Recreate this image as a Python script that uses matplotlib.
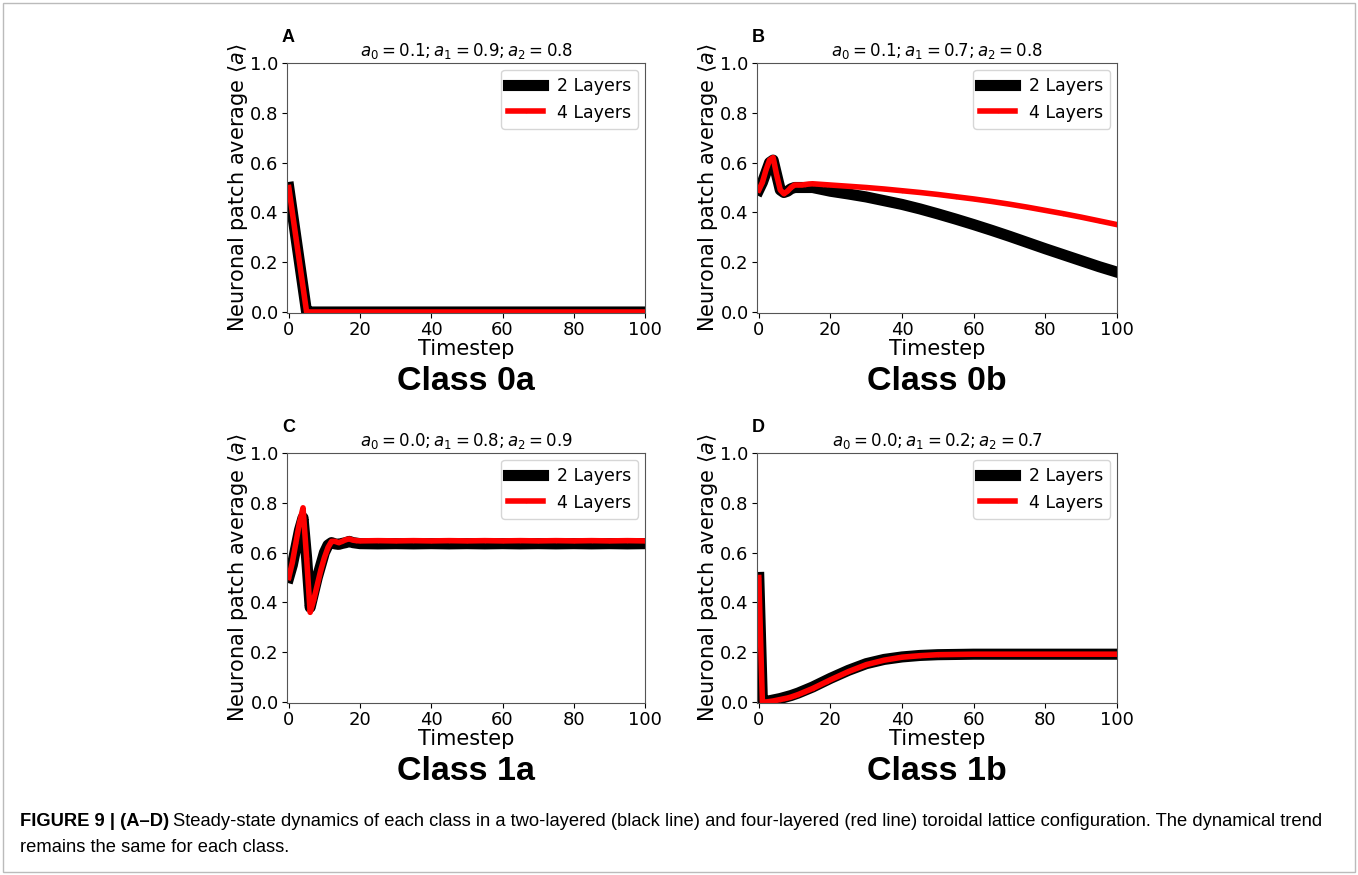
import matplotlib
matplotlib.use("Agg")
import matplotlib.pyplot as plt
from matplotlib import font_manager
from matplotlib.patches import Rectangle

# Timesteps at which each run was sampled
t_early = list(range(0, 21))
t_late = [25, 30, 35, 40, 45, 50, 55, 60, 65, 70, 75, 80, 85, 90, 95, 100]
timesteps = t_early + t_late

# Class 0a: a0=0.1, a1=0.9, a2=0.8
a_two = [0.50, 0.40, 0.30, 0.20, 0.10, 0.0] + [0.0] * 31
a_four = [0.50, 0.40, 0.30, 0.20, 0.10, 0.0] + [0.0] * 31

# Class 0b: a0=0.1, a1=0.7, a2=0.8
b_two = [0.49, 0.52, 0.56, 0.60, 0.61, 0.55, 0.49, 0.48, 0.485, 0.495, 0.50,
         0.50, 0.50, 0.50, 0.50, 0.50, 0.497, 0.494, 0.491, 0.488, 0.485,
         0.474, 0.462, 0.447, 0.432, 0.414, 0.394, 0.373, 0.351, 0.328, 0.304,
         0.279, 0.254, 0.230, 0.206, 0.182, 0.160]
b_four = [0.49, 0.52, 0.57, 0.61, 0.62, 0.55, 0.49, 0.475, 0.485, 0.50, 0.51,
          0.51, 0.51, 0.512, 0.514, 0.515, 0.514, 0.513, 0.512, 0.511, 0.510,
          0.505, 0.500, 0.494, 0.487, 0.480, 0.472, 0.463, 0.454, 0.444, 0.433,
          0.421, 0.408, 0.395, 0.381, 0.366, 0.351]

# Class 1a: a0=0.0, a1=0.8, a2=0.9
c_two = [0.50, 0.55, 0.62, 0.69, 0.74, 0.58, 0.38, 0.44, 0.50, 0.55, 0.60,
         0.63, 0.64, 0.635, 0.633, 0.637, 0.64, 0.645, 0.64, 0.638, 0.636,
         0.635, 0.636, 0.635, 0.636, 0.635, 0.636, 0.635, 0.636, 0.635, 0.636,
         0.635, 0.636, 0.635, 0.636, 0.635, 0.636]
c_four = [0.50, 0.56, 0.64, 0.72, 0.78, 0.58, 0.36, 0.41, 0.47, 0.53, 0.58,
          0.62, 0.645, 0.645, 0.64, 0.645, 0.652, 0.655, 0.65, 0.648, 0.647,
          0.648, 0.647, 0.648, 0.647, 0.648, 0.647, 0.648, 0.647, 0.648, 0.647,
          0.648, 0.647, 0.648, 0.647, 0.648, 0.647]

# Class 1b: a0=0.0, a1=0.2, a2=0.7
d_two = [0.50, 0.003, 0.003, 0.005, 0.008, 0.011, 0.014, 0.018, 0.022, 0.026,
         0.031, 0.036, 0.042, 0.048, 0.054, 0.060, 0.067, 0.074, 0.081, 0.088,
         0.095, 0.127, 0.154, 0.171, 0.181, 0.187, 0.190, 0.191, 0.192, 0.192,
         0.192, 0.192, 0.192, 0.192, 0.192, 0.192, 0.192]
d_four = [0.50, 0.0, 0.0, 0.002, 0.004, 0.007, 0.010, 0.013, 0.016, 0.020,
          0.025, 0.030, 0.036, 0.042, 0.048, 0.054, 0.061, 0.068, 0.075, 0.082,
          0.089, 0.122, 0.150, 0.168, 0.180, 0.186, 0.190, 0.191, 0.192, 0.192,
          0.192, 0.192, 0.192, 0.192, 0.192, 0.192, 0.192]

panels = [
    ("A", r"$a_0 = 0.1; a_1 = 0.9; a_2 = 0.8$", a_two, a_four, "Class 0a"),
    ("B", r"$a_0 = 0.1; a_1 = 0.7; a_2 = 0.8$", b_two, b_four, "Class 0b"),
    ("C", r"$a_0 = 0.0; a_1 = 0.8; a_2 = 0.9$", c_two, c_four, "Class 1a"),
    ("D", r"$a_0 = 0.0; a_1 = 0.2; a_2 = 0.7$", d_two, d_four, "Class 1b"),
]

installed = {f.name for f in font_manager.fontManager.ttflist}
narrow = "Liberation Sans Narrow" if "Liberation Sans Narrow" in installed else "Liberation Sans"
cap_size = 12 if narrow == "Liberation Sans Narrow" else 13.2

W, H = 1358, 875
fig = plt.figure(figsize=(W / 100, H / 100), dpi=100)

# axes boxes in pixels: left, top, right, bottom
boxes = [(287, 63, 645, 313), (757, 63, 1117, 313),
         (287, 453, 645, 703), (757, 453, 1117, 703)]

for (letter, title, two, four, cls), (l, t, r, b) in zip(panels, boxes):
    ax = fig.add_axes([l / W, 1 - b / H, (r - l) / W, (b - t) / H])
    ax.plot(timesteps, two, color="black", lw=8, marker="o", ms=2,
            label="2 Layers")
    ax.plot(timesteps, four, color="red", lw=4, marker="o", ms=1.5,
            label="4 Layers")
    ax.set_xlim(-0.5, 100)
    ax.set_ylim(-0.004, 1.0)
    ax.set_xticks([0, 20, 40, 60, 80, 100])
    ax.set_yticks([0.0, 0.2, 0.4, 0.6, 0.8, 1.0])
    ax.tick_params(labelsize=13, pad=2.5)
    for s in ax.spines.values():
        s.set_color("#555555")
    ax.set_xlabel("Timestep", fontsize=15, labelpad=0)
    ax.set_ylabel(r"Neuronal patch average $\langle a \rangle$", fontsize=15,
                  labelpad=0)
    ax.set_title(title, fontsize=12, pad=5)
    ax.legend(loc="upper right", fontsize=12.5, handlelength=2.0,
              borderaxespad=0.4)
    fig.text((l - 5) / W, 1 - (t - 26) / H, letter, fontsize=13,
             fontweight="bold", family="Liberation Sans", va="center")
    fig.text((l + r) / 2 / W, 1 - (b + 68) / H, cls, fontsize=24.5,
             fontweight="bold", family="Liberation Sans", ha="center",
             va="center")

# thin frame round the whole figure
fig.add_artist(Rectangle((3 / W, 3 / H), (W - 6) / W, (H - 6) / H,
                         transform=fig.transFigure, fill=False,
                         edgecolor="#bbbbbb", lw=1))

# caption
cap_x, cap_y = 20 / W, 1 - 822 / H
head = fig.text(cap_x, cap_y, "FIGURE 9 | (A\u2013D)", fontsize=cap_size,
                fontweight="bold", family=narrow, va="center")
fig.canvas.draw()
bb = head.get_window_extent()
fig.text((bb.x1 + 4) / W, cap_y,
         "Steady-state dynamics of each class in a two-layered (black line) "
         "and four-layered (red line) toroidal lattice configuration. "
         "The dynamical trend", fontsize=cap_size, family=narrow, va="center")
fig.text(cap_x, 1 - 848 / H, "remains the same for each class.",
         fontsize=cap_size, family=narrow, va="center")

fig.savefig("out.png", dpi=100)
